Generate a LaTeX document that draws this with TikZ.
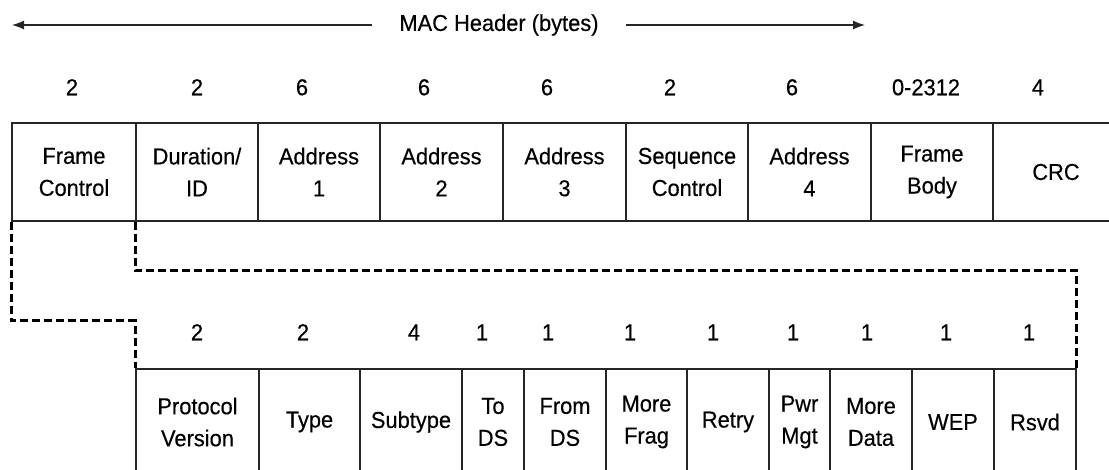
\documentclass[tikz,border=0pt]{standalone}
\usepackage{fontspec}
\setmainfont{Liberation Sans}[FakeStretch=0.95,FakeBold=0.4]
\usetikzlibrary{arrows.meta}
\tikzset{
  cell/.style={draw=black!85, line width=1.1pt, inner sep=0pt, align=center,
    font=\fontsize{23}{32}\selectfont, text=black},
  topcell/.style={cell, minimum height=98pt},
  botcell/.style={cell, minimum height=106pt},
  num/.style={inner sep=0pt, font=\fontsize{23}{26}\selectfont, text height=16.5pt, text depth=0pt},
  link/.style={line width=3pt, dash pattern=on 8pt off 4pt, black},
  hdrarrow/.style={line width=1.2pt, black!85, -{Latex[length=12pt,width=9pt]}}
}
\begin{document}
\begin{tikzpicture}[x=1pt,y=-1pt]
\useasboundingbox (0,0) rectangle (1109,469);
\clip (0,0) rectangle (1109,469);
% header
\node[inner ysep=0pt, inner xsep=27pt, font=\fontsize{23}{26}\selectfont] (hdr) at (499,25) {MAC Header (bytes)};
\coordinate (hl) at (12,25);
\coordinate (hr) at (865,25);
\draw[hdrarrow] (hdr.west) -- (hl);
\draw[hdrarrow] (hdr.east) -- (hr);
% top numbers
\node[num] (tn1) at (72,87) {2};
\node[num] (tn2) at (197,87) {2};
\node[num] (tn3) at (302,87) {6};
\node[num] (tn4) at (424,87) {6};
\node[num] (tn5) at (547,87) {6};
\node[num] (tn6) at (670,87) {2};
\node[num] (tn7) at (792,87) {6};
\node[num] (tn8) at (926,87) {0-2312};
\node[num] (tn9) at (1038,87) {4};
% top row
\node[topcell, minimum width=124pt] (fc) at (74,172) {Frame\\Control};
\node[topcell, minimum width=122pt] (dur) at (197,172) {Duration/\\ID};
\node[topcell, minimum width=122pt] (a1) at (319,172) {Address\\1};
\node[topcell, minimum width=123pt] (a2) at (441.5,172) {Address\\2};
\node[topcell, minimum width=123pt] (a3) at (564.5,172) {Address\\3};
\node[topcell, minimum width=122pt] (sc) at (687,172) {Sequence\\Control};
\node[topcell, minimum width=123pt] (a4) at (809.5,172) {Address\\4};
\node[topcell, minimum width=122pt] (fb) at (932,172) {Frame\\Body};
\node[topcell, minimum width=126pt] (crc) at (1056,172) {CRC};
% bottom numbers
\node[num] (bn1) at (197,332) {2};
\node[num] (bn2) at (303,332) {2};
\node[num] (bn3) at (414,332) {4};
\node[num] (bn4) at (482,332) {1};
\node[num] (bn5) at (548,332) {1};
\node[num] (bn6) at (630,332) {1};
\node[num] (bn7) at (713,332) {1};
\node[num] (bn8) at (793,332) {1};
\node[num] (bn9) at (867,332) {1};
\node[num] (bn10) at (946,332) {1};
\node[num] (bn11) at (1029,332) {1};
% bottom row
\node[botcell, minimum width=123pt] (pv) at (197.5,422) {Protocol\\Version};
\node[botcell, minimum width=101pt] (ty) at (309.5,422) {Type};
\node[botcell, minimum width=102pt] (st) at (411,422) {Subtype};
\node[botcell, minimum width=62pt] (tds) at (493,422) {To\\DS};
\node[botcell, minimum width=82pt] (fds) at (565,422) {From\\DS};
\node[botcell, minimum width=81pt] (mf) at (646.5,422) {More\\Frag};
\node[botcell, minimum width=82pt] (re) at (728,422) {Retry};
\node[botcell, minimum width=61pt] (pm) at (799.5,422) {Pwr\\Mgt};
\node[botcell, minimum width=82pt] (md) at (871,422) {More\\Data};
\node[botcell, minimum width=82pt] (wep) at (953,422) {WEP};
\node[botcell, minimum width=82pt] (rsvd) at (1035,422) {Rsvd};
% dashed links
\draw[link] (fc.south west) -- ++(0,99) -| (pv.north west);
\draw[link] (dur.south west) -- ++(0,49) -| (rsvd.north east);
\end{tikzpicture}
\end{document}
